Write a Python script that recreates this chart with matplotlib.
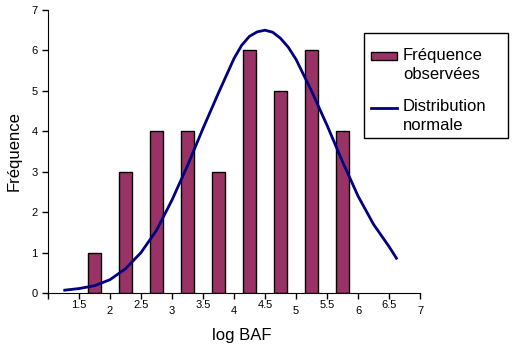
import matplotlib.pyplot as plt
from matplotlib.patches import Patch, Rectangle
from matplotlib.lines import Line2D
from matplotlib.legend_handler import HandlerPatch, HandlerLine2D

plt.rcParams['font.family'] = ['Liberation Sans', 'DejaVu Sans']

# Observed frequencies (bars)
bin_centers = [1.75, 2.25, 2.75, 3.25, 3.75, 4.25, 4.75, 5.25, 5.75]
counts = [1, 3, 4, 4, 3, 6, 5, 6, 4]

# Normal distribution curve
curve_x = [1.27, 1.5, 1.75, 2.0, 2.25, 2.5, 2.75, 3.0, 3.25, 3.5, 3.75, 4.0, 4.125,
           4.25, 4.375, 4.5, 4.625, 4.75, 4.875, 5.0, 5.25, 5.5, 5.75, 6.0, 6.25, 6.5, 6.62]
curve_y = [0.07, 0.11, 0.18, 0.33, 0.6, 1.0, 1.55, 2.3, 3.15, 4.07, 4.95, 5.8, 6.13,
           6.35, 6.46, 6.5, 6.45, 6.3, 6.08, 5.78, 5.0, 4.15, 3.25, 2.4, 1.7, 1.15, 0.86]

xticks = [1.5, 2, 2.5, 3, 3.5, 4, 4.5, 5, 5.5, 6, 6.5, 7]
xtick_labels = ['1.5', '2', '2.5', '3', '3.5', '4', '4.5', '5', '5.5', '6', '6.5', '7']

bar_color = '#993366'
line_color = '#000080'

W, H = 514, 355
fig = plt.figure(figsize=(W / 100, H / 100), dpi=100)
ax = fig.add_axes([48 / W, 1 - 293 / H, 372 / W, 283 / H])

ax.bar(bin_centers, counts, width=0.21, color=bar_color, edgecolor='black', linewidth=1, zorder=2)
ax.plot(curve_x, curve_y, color=line_color, linewidth=2, zorder=3,
        solid_joinstyle='round')

ax.set_xlim(1, 7)
ax.set_ylim(0, 7)
ax.set_yticks(range(8))
ax.set_xticks([1] + xticks)
ax.set_xticklabels([''] + xtick_labels)

# staggered x labels like Excel
for i, lbl in enumerate(ax.get_xticklabels()):
    if i > 0 and i % 2 == 0:
        lbl.set_y(-0.02)

ax.tick_params(axis='both', labelsize=8, length=4, width=1, direction='out')
ax.tick_params(axis='x', pad=1)
ax.spines['top'].set_visible(False)
ax.spines['right'].set_visible(False)

ax.set_xlabel('log BAF', fontsize=12)
ax.xaxis.set_label_coords(0.52, -0.125)
ax.set_ylabel('Fréquence', fontsize=12, labelpad=7)

# legend handles sit on the first line of each two-line label
shift = 0.5 * 12


def rect_up(legend, orig_handle, xdescent, ydescent, width, height, fontsize):
    return Rectangle((-xdescent, -ydescent + shift + 2), width, height * 0.65)


class LineUp(HandlerLine2D):
    def create_artists(self, *args, **kwargs):
        arts = super().create_artists(*args, **kwargs)
        for a in arts:
            if isinstance(a, Line2D):
                a.set_ydata([y + shift for y in a.get_ydata()])
        return arts


handles = [Patch(facecolor=bar_color, edgecolor='black'),
           Line2D([0], [0], color=line_color, linewidth=2)]
leg = fig.legend(handles, ['Fréquence\nobservées', 'Distribution\nnormale'],
                 loc='upper left', bbox_to_anchor=(371 / W, 1 - 48 / H),
                 fontsize=12, frameon=False,
                 labelspacing=1.05, handlelength=1.56, handletextpad=0.36,
                 borderaxespad=0, borderpad=0,
                 handler_map={Patch: HandlerPatch(patch_func=rect_up), Line2D: LineUp()})
for t in leg.get_texts():
    t.set_linespacing(1.3)

# legend frame, drawn as in the original (extra room on the right)
fig.patches.append(Rectangle((364 / W, 1 - 138 / H), 144 / W, 105 / H,
                             transform=fig.transFigure, fill=False,
                             edgecolor='black', linewidth=1))

fig.savefig('out.png', dpi=100)
